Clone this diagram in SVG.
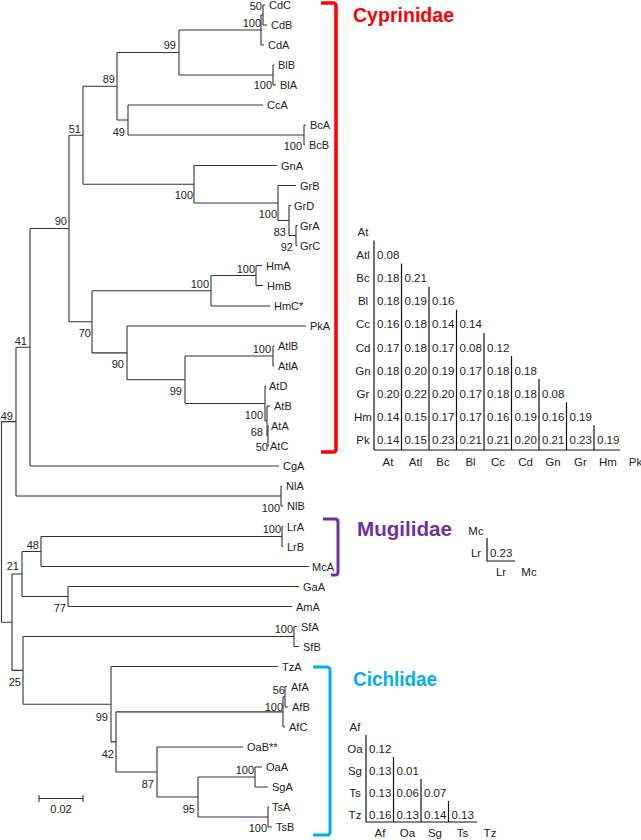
<svg xmlns="http://www.w3.org/2000/svg" width="641" height="840" viewBox="0 0 641 840">
<style>
text{font-family:"Liberation Sans",Arial,sans-serif;font-size:11px;fill:#222}
.bs{text-anchor:end}
.m{font-size:11.5px}
.mc{font-size:11.5px;text-anchor:middle}
.br{stroke:#333;stroke-width:1.1;fill:none}
.ml{stroke:#111;stroke-width:1.2;fill:none}
.fam{font-weight:bold;font-size:21px}
</style>
<rect width="641" height="840" fill="#fff"/>
<g id="connectors" class="br">
<path d="M1.5,421.6V622.2M1.5,421.6H16M1.5,622.2H12"/>
<path d="M16,347.25V496M16,347.25H30M16,496H281"/>
<path d="M30,228.5V466M30,228.5H69M30,466H279"/>
<path d="M69,135.25V321.8M69,135.25H83M69,321.8H92"/>
<path d="M83,86.25V184.25M83,86.25H117M83,184.25H194"/>
<path d="M117,52.5V120M117,52.5H179M117,120H128"/>
<path d="M179,30V75M179,30H261M179,75H273"/>
<path d="M261,15V45M261,15H263M261,45H264"/>
<path d="M263,5V25M263,5H265M263,25H267"/>
<path d="M273,65V85M273,65H274.5M273,85H276"/>
<path d="M128,105V135M128,105H263M128,135H304"/>
<path d="M304,125V145M304,125H306M304,145H305"/>
<path d="M194,165.5V203M194,165.5H277M194,203H278"/>
<path d="M278,185.5V220.5M278,185.5H296M278,220.5H289"/>
<path d="M289,205.5V235.5M289,205.5H291M289,235.5H296"/>
<path d="M296,225.5V245.5M296,225.5H297.5M296,245.5H297.5"/>
<path d="M92,290.75V352.9M92,290.75H211M92,352.9H127"/>
<path d="M211,275.5V306M211,275.5H256M211,306H270"/>
<path d="M256,265.5V285.5M256,265.5H262M256,285.5H263"/>
<path d="M127,326V379.75M127,326H306M127,379.75H185"/>
<path d="M185,356V403.5M185,356H273M185,403.5H265"/>
<path d="M273,346V366M273,346H274.5M273,366H274"/>
<path d="M265,386V421M265,386H266M265,421H267"/>
<path d="M267,406V436M267,406H270M267,436H268"/>
<path d="M268,426V446M268,426H269M268,446H269"/>
<path d="M281,486V506M281,486H282M281,506H283"/>
<path d="M12,574V670.4M12,574H22M12,670.4H23"/>
<path d="M22,551.5V596.5M22,551.5H41M22,596.5H68"/>
<path d="M41,536.5V566.5M41,536.5H282M41,566.5H309"/>
<path d="M282,526.5V546.5M282,526.5H283M282,546.5H283"/>
<path d="M68,586.5V606.5M68,586.5H299M68,606.5H292"/>
<path d="M23,636.5V704.2M23,636.5H294M23,704.2H111"/>
<path d="M294,626.5V646.5M294,626.5H297M294,646.5H299"/>
<path d="M111,666.5V741.9M111,666.5H278M111,741.9H116"/>
<path d="M116,711.9V772M116,711.9H283M116,772H157"/>
<path d="M283,696.75V727M283,696.75H285M283,727H285"/>
<path d="M285,686.5V707M285,686.5H287M285,707H288"/>
<path d="M157,747V797M157,747H243M157,797H198"/>
<path d="M198,777V817M198,777H255M198,817H268"/>
<path d="M255,767V787M255,767H262M255,787H268"/>
<path d="M268,807V827M268,807H269M268,827H272"/>
</g>
<g id="leaves">
<g id="n-CdC"><text x="269" y="9">CdC</text></g>
<g id="n-CdB"><text x="271" y="29">CdB</text></g>
<g id="n-CdA"><text x="268" y="49">CdA</text></g>
<g id="n-BlB"><text x="278" y="69">BlB</text></g>
<g id="n-BlA"><text x="280" y="89">BlA</text></g>
<g id="n-CcA"><text x="267" y="109">CcA</text></g>
<g id="n-BcA"><text x="310" y="129">BcA</text></g>
<g id="n-BcB"><text x="309" y="149">BcB</text></g>
<g id="n-GnA"><text x="281" y="169.5">GnA</text></g>
<g id="n-GrB"><text x="300" y="189.5">GrB</text></g>
<g id="n-GrD"><text x="294" y="209.5">GrD</text></g>
<g id="n-GrA"><text x="300" y="229.5">GrA</text></g>
<g id="n-GrC"><text x="300" y="249.5">GrC</text></g>
<g id="n-HmA"><text x="266" y="269.5">HmA</text></g>
<g id="n-HmB"><text x="267" y="289.5">HmB</text></g>
<g id="n-HmC"><text x="274" y="310">HmC*</text></g>
<g id="n-PkA"><text x="310" y="330">PkA</text></g>
<g id="n-AtlB"><text x="278" y="350">AtlB</text></g>
<g id="n-AtlA"><text x="278" y="370">AtlA</text></g>
<g id="n-AtD"><text x="269" y="390">AtD</text></g>
<g id="n-AtB"><text x="274" y="410">AtB</text></g>
<g id="n-AtA"><text x="271" y="430">AtA</text></g>
<g id="n-AtC"><text x="270" y="450">AtC</text></g>
<g id="n-CgA"><text x="283" y="470">CgA</text></g>
<g id="n-NlA"><text x="286" y="490">NlA</text></g>
<g id="n-NlB"><text x="287" y="510">NlB</text></g>
<g id="n-LrA"><text x="287" y="530.5">LrA</text></g>
<g id="n-LrB"><text x="287" y="550.5">LrB</text></g>
<g id="n-McA"><text x="312" y="570.5">McA</text></g>
<g id="n-GaA"><text x="303" y="590.5">GaA</text></g>
<g id="n-AmA"><text x="296" y="610.5">AmA</text></g>
<g id="n-SfA"><text x="301" y="630.5">SfA</text></g>
<g id="n-SfB"><text x="303" y="650.5">SfB</text></g>
<g id="n-TzA"><text x="282" y="670.5">TzA</text></g>
<g id="n-AfA"><text x="291" y="690.5">AfA</text></g>
<g id="n-AfB"><text x="292" y="711">AfB</text></g>
<g id="n-AfC"><text x="289" y="731">AfC</text></g>
<g id="n-OaB"><text x="247" y="751">OaB**</text></g>
<g id="n-OaA"><text x="266" y="771">OaA</text></g>
<g id="n-SgA"><text x="272" y="791">SgA</text></g>
<g id="n-TsA"><text x="272" y="811">TsA</text></g>
<g id="n-TsB"><text x="276" y="831">TsB</text></g>
</g>
<g id="bootstrap" class="bs">
<text class="bs" x="262" y="10">50</text>
<text class="bs" x="261" y="27">100</text>
<text class="bs" x="176" y="49">99</text>
<text class="bs" x="272" y="89">100</text>
<text class="bs" x="115" y="83">89</text>
<text class="bs" x="125" y="136">49</text>
<text class="bs" x="81" y="133">51</text>
<text class="bs" x="302" y="150">100</text>
<text class="bs" x="193" y="199">100</text>
<text class="bs" x="277" y="218">100</text>
<text class="bs" x="286" y="236">83</text>
<text class="bs" x="293" y="251">92</text>
<text class="bs" x="67" y="225">90</text>
<text class="bs" x="255" y="273">100</text>
<text class="bs" x="209" y="288">100</text>
<text class="bs" x="91" y="337">70</text>
<text class="bs" x="27" y="345">41</text>
<text class="bs" x="124" y="368">90</text>
<text class="bs" x="271" y="353">100</text>
<text class="bs" x="182" y="395">99</text>
<text class="bs" x="263" y="419">100</text>
<text class="bs" x="263" y="436">68</text>
<text class="bs" x="268" y="451">50</text>
<text class="bs" x="13" y="420">49</text>
<text class="bs" x="280" y="512">100</text>
<text class="bs" x="281" y="533">100</text>
<text class="bs" x="39" y="549">48</text>
<text class="bs" x="19" y="570">21</text>
<text class="bs" x="66" y="612">77</text>
<text class="bs" x="293" y="633">100</text>
<text class="bs" x="21" y="686">25</text>
<text class="bs" x="285" y="694">56</text>
<text class="bs" x="283" y="711">100</text>
<text class="bs" x="108" y="721">99</text>
<text class="bs" x="114" y="758">42</text>
<text class="bs" x="254" y="774">100</text>
<text class="bs" x="154" y="788">87</text>
<text class="bs" x="195" y="813">95</text>
<text class="bs" x="267" y="832">100</text>
</g>
<g id="scale-bar">
<path class="br" d="M39,798.5H83M39,795V802M83,795V802"/>
<text x="61" y="813" text-anchor="middle">0.02</text>
</g>
<g id="cyprinidae">
<path d="M321,3H333Q336,3 336,6V449Q336,452 333,452H321" fill="none" stroke="#FF0000" stroke-width="3.5"/>
<text class="fam" x="353" y="22" fill="#FF0000" style="fill:#FF0000" textLength="101" lengthAdjust="spacingAndGlyphs">Cyprinidae</text>
</g>
<g id="mugilidae">
<path d="M323,519H335Q338,519 338,522V572Q338,575 335,575H331" fill="none" stroke="#7030A0" stroke-width="3"/>
<text class="fam" x="357" y="536" style="fill:#7030A0" textLength="95" lengthAdjust="spacingAndGlyphs">Mugilidae</text>
</g>
<g id="cichlidae">
<path d="M313,667H327Q330,667 330,670V832Q330,835 327,835H313" fill="none" stroke="#00B0F0" stroke-width="3"/>
<text class="fam" x="353" y="686" style="fill:#00B0F0" textLength="84" lengthAdjust="spacingAndGlyphs">Cichlidae</text>
</g>
<g id="matrix-cyprinidae">
<path class="ml" d="M374,240.5V450M401.5,263.6V450M429,286.7V450M456.5,309.8V450M484,332.9V450M511.5,356V450M539,379.1V450M566.5,402.2V450M594,425.3V450M374,450H620"/>
<g class="mc">
<text class="mc" x="363" y="236">At</text>
<text class="mc" x="363" y="259">Atl</text>
<text class="mc" x="363" y="282">Bc</text>
<text class="mc" x="363" y="305">Bl</text>
<text class="mc" x="363" y="328">Cc</text>
<text class="mc" x="363" y="351.5">Cd</text>
<text class="mc" x="363" y="374.5">Gn</text>
<text class="mc" x="363" y="397.5">Gr</text>
<text class="mc" x="363" y="420.5">Hm</text>
<text class="mc" x="363" y="444">Pk</text>
<text class="mc" x="388" y="466">At</text>
<text class="mc" x="415.5" y="466">Atl</text>
<text class="mc" x="443" y="466">Bc</text>
<text class="mc" x="470.5" y="466">Bl</text>
<text class="mc" x="498" y="466">Cc</text>
<text class="mc" x="525.5" y="466">Cd</text>
<text class="mc" x="553" y="466">Gn</text>
<text class="mc" x="580.5" y="466">Gr</text>
<text class="mc" x="608" y="466">Hm</text>
<text class="mc" x="635.5" y="466">Pk</text>
</g>
<text class="m" x="377" y="259">0.08</text>
<text class="m" x="377" y="282">0.18</text><text class="m" x="404.5" y="282">0.21</text>
<text class="m" x="377" y="305">0.18</text><text class="m" x="404.5" y="305">0.19</text><text class="m" x="432" y="305">0.16</text>
<text class="m" x="377" y="328">0.16</text><text class="m" x="404.5" y="328">0.18</text><text class="m" x="432" y="328">0.14</text><text class="m" x="459.5" y="328">0.14</text>
<text class="m" x="377" y="351.5">0.17</text><text class="m" x="404.5" y="351.5">0.18</text><text class="m" x="432" y="351.5">0.17</text><text class="m" x="459.5" y="351.5">0.08</text><text class="m" x="487" y="351.5">0.12</text>
<text class="m" x="377" y="374.5">0.18</text><text class="m" x="404.5" y="374.5">0.20</text><text class="m" x="432" y="374.5">0.19</text><text class="m" x="459.5" y="374.5">0.17</text><text class="m" x="487" y="374.5">0.18</text><text class="m" x="514.5" y="374.5">0.18</text>
<text class="m" x="377" y="397.5">0.20</text><text class="m" x="404.5" y="397.5">0.22</text><text class="m" x="432" y="397.5">0.20</text><text class="m" x="459.5" y="397.5">0.17</text><text class="m" x="487" y="397.5">0.18</text><text class="m" x="514.5" y="397.5">0.18</text><text class="m" x="542" y="397.5">0.08</text>
<text class="m" x="377" y="420.5">0.14</text><text class="m" x="404.5" y="420.5">0.15</text><text class="m" x="432" y="420.5">0.17</text><text class="m" x="459.5" y="420.5">0.17</text><text class="m" x="487" y="420.5">0.16</text><text class="m" x="514.5" y="420.5">0.19</text><text class="m" x="542" y="420.5">0.16</text><text class="m" x="569.5" y="420.5">0.19</text>
<text class="m" x="377" y="444">0.14</text><text class="m" x="404.5" y="444">0.15</text><text class="m" x="432" y="444">0.23</text><text class="m" x="459.5" y="444">0.21</text><text class="m" x="487" y="444">0.21</text><text class="m" x="514.5" y="444">0.20</text><text class="m" x="542" y="444">0.21</text><text class="m" x="569.5" y="444">0.23</text><text class="m" x="597" y="444">0.19</text>
</g>
<g id="matrix-mugilidae">
<path class="ml" d="M487,538V561H515"/>
<text class="mc" x="476" y="535">Mc</text>
<text class="mc" x="476" y="557">Lr</text>
<text class="m" x="490" y="557">0.23</text>
<text class="mc" x="501" y="576">Lr</text>
<text class="mc" x="529" y="576">Mc</text>
</g>
<g id="matrix-cichlidae">
<path class="ml" d="M366,735V822M393.5,757V822M421,779V822M448.5,801V822M366,822H477"/>
<text class="mc" x="355" y="730.5">Af</text>
<text class="mc" x="355" y="752.5">Oa</text>
<text class="mc" x="355" y="774.5">Sg</text>
<text class="mc" x="355" y="796.5">Ts</text>
<text class="mc" x="355" y="818.5">Tz</text>
<text class="m" x="369" y="752.5">0.12</text>
<text class="m" x="369" y="774.5">0.13</text><text class="m" x="396.5" y="774.5">0.01</text>
<text class="m" x="369" y="796.5">0.13</text><text class="m" x="396.5" y="796.5">0.06</text><text class="m" x="424" y="796.5">0.07</text>
<text class="m" x="369" y="818.5">0.16</text><text class="m" x="396.5" y="818.5">0.13</text><text class="m" x="424" y="818.5">0.14</text><text class="m" x="451.5" y="818.5">0.13</text>
<text class="mc" x="380" y="837">Af</text>
<text class="mc" x="407.5" y="837">Oa</text>
<text class="mc" x="435" y="837">Sg</text>
<text class="mc" x="462.5" y="837">Ts</text>
<text class="mc" x="490" y="837">Tz</text>
</g>
</svg>
